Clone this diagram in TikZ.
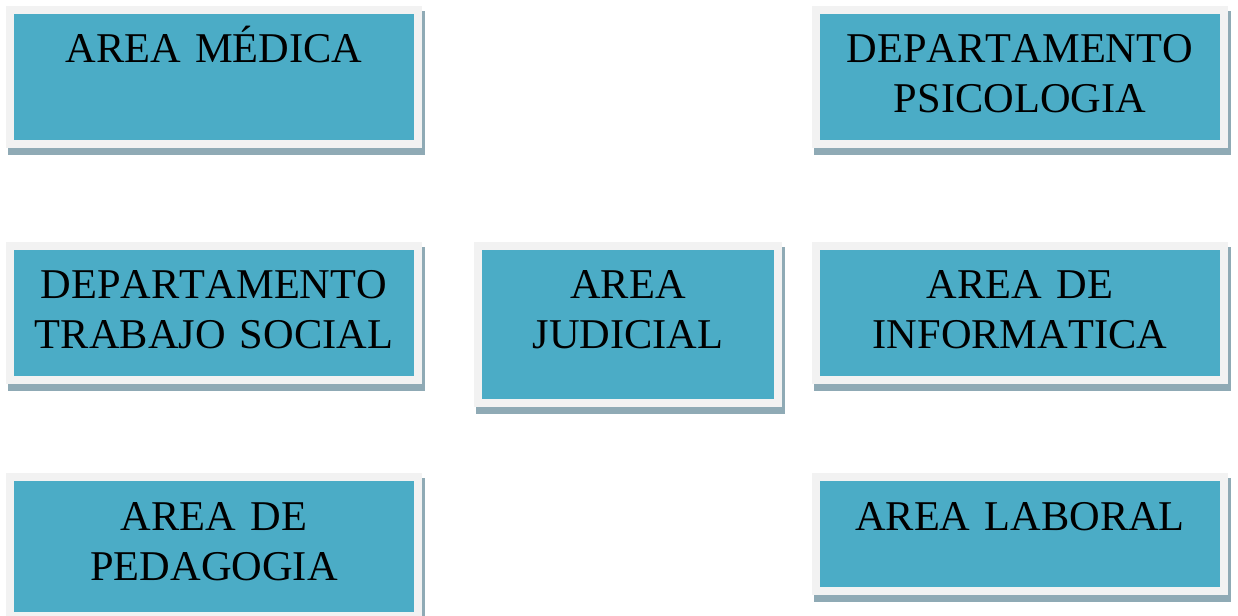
\documentclass[tikz,border=0pt]{standalone}
\usepackage{fontspec}
\setmainfont{Liberation Serif}[Kerning=Off]
\usepackage{xcolor}
\usepackage{tikz}
\usetikzlibrary{positioning, backgrounds}

\definecolor{azul}{RGB}{75,172,198}
\definecolor{marco}{RGB}{242,242,242}
\definecolor{sombra}{RGB}{143,170,181}

\begin{document}
\begin{tikzpicture}[x=0.75pt, y=-0.75pt,
  area/.style={anchor=north west, fill=azul, draw=marco, line width=6pt, outer sep=3pt,
    inner sep=0pt, align=center, text width=306pt, text height=39.75pt, text depth=60.75pt,
    font=\fontsize{31.8pt}{37.5pt}\selectfont}]
\useasboundingbox (0,0) rectangle (1238,616);
% columna izquierda
\node[area] (med) at (6,6) {AREA MÉDICA};
\node[area] (tra) at (6,242) {DEPARTAMENTO\\TRABAJO SOCIAL};
\node[area, text depth=64.5pt] (ped) at (6,473) {AREA DE\\PEDAGOGIA};
% centro
\node[area, text width=225pt, text depth=78pt] (jud) at (474,242) {AREA\\JUDICIAL};
% columna derecha
\node[area] (psi) at (812,6) {DEPARTAMENTO\\PSICOLOGIA};
\node[area] (inf) at (812,242) {AREA DE\\INFORMATICA};
\node[area, text depth=45.75pt] (lab) at (812,473) {AREA LABORAL};
% sombras
\begin{scope}[on background layer]
\foreach \n in {med,tra,ped,jud,psi,inf,lab}
  \fill[sombra] ([shift={(2,5)}]\n.north west) rectangle ([shift={(3,7)}]\n.south east);
\end{scope}
\end{tikzpicture}
\end{document}
